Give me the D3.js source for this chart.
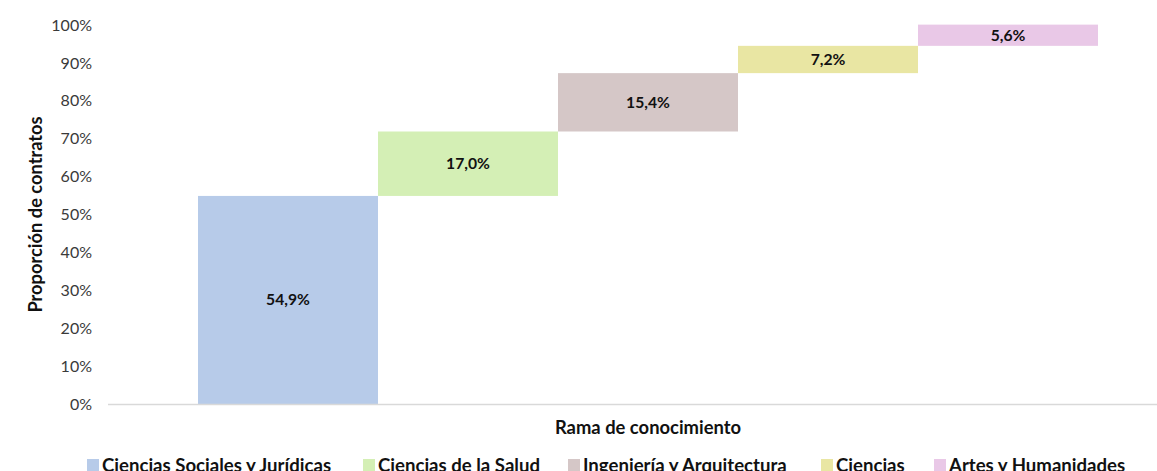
<!DOCTYPE html>
<html>
<head>
<meta charset="utf-8">
<script src="https://cdn.jsdelivr.net/npm/d3@7"></script>
<style>
  html, body { margin: 0; padding: 0; background: #fff; overflow: hidden; }
  svg { display: block; font-family: Lato, "Open Sans", sans-serif; }
</style>
</head>
<body>
<svg id="chart" width="1157" height="471"></svg>
<script>
// Share of contracts by branch of knowledge (percent)
const branches = [
  "Ciencias Sociales y Jurídicas",
  "Ciencias de la Salud",
  "Ingeniería y Arquitectura",
  "Ciencias",
  "Artes y Humanidades"
];
const shares = [54.9, 17.0, 15.4, 7.2, 5.6];
const colors = ["#b7cbe9", "#d4efb5", "#d5c7c7", "#e9e6a3", "#e9c8e7"];
const yTicks = [0, 10, 20, 30, 40, 50, 60, 70, 80, 90, 100];

const svg = d3.select("#chart");

// cumulative start/end for each floating bar
let acc = 0;
const rows = branches.map((name, i) => {
  const start = acc;
  acc += shares[i];
  return { name, value: shares[i], start, end: acc, color: colors[i] };
});

const plotLeft = 108, plotRight = 1188;
const x = d3.scaleBand()
  .domain(branches)
  .range([plotLeft, plotRight])
  .paddingOuter(0.5)
  .paddingInner(0);

const y = d3.scaleLinear().domain([0, 100]).range([404, 25]);

// y axis labels (no axis line, no ticks)
const yAxis = svg.append("g")
  .attr("transform", `translate(${plotLeft},0)`)
  .call(d3.axisLeft(y).tickValues(yTicks).tickFormat(d => d + "%").tickSize(0).tickPadding(16));
yAxis.select(".domain").remove();
yAxis.selectAll("text")
  .attr("font-family", "Lato, sans-serif")
  .attr("font-size", 16)
  .attr("fill", "#3a3a3a");

// bars
svg.append("g").selectAll("rect")
  .data(rows)
  .join("rect")
  .attr("x", d => x(d.name))
  .attr("width", x.bandwidth())
  .attr("y", d => y(d.end))
  .attr("height", d => y(d.start) - y(d.end))
  .attr("fill", d => d.color);

// baseline
svg.append("line")
  .attr("x1", plotLeft).attr("x2", plotRight)
  .attr("y1", y(0) + 0.5).attr("y2", y(0) + 0.5)
  .attr("stroke", "#d9d9d9").attr("stroke-width", 1.3);

// value labels
const fmt = v => v.toFixed(1).replace(".", ",") + "%";
svg.append("g").selectAll("text")
  .data(rows)
  .join("text")
  .attr("x", d => x(d.name) + x.bandwidth() / 2)
  .attr("y", d => (y(d.start) + y(d.end)) / 2)
  .attr("dy", "0.35em")
  .attr("text-anchor", "middle")
  .attr("font-size", 15.7)
  .attr("font-weight", 700)
  .attr("fill", "#111")
  .text(d => fmt(d.value));

// axis titles
svg.append("text")
  .attr("transform", `translate(42,${(y(0) + y(100)) / 2}) rotate(-90)`)
  .attr("text-anchor", "middle")
  .attr("font-size", 18.3)
  .attr("font-weight", 700)
  .attr("fill", "#111")
  .text("Proporción de contratos");

svg.append("text")
  .attr("x", 648)
  .attr("y", 434)
  .attr("text-anchor", "middle")
  .attr("font-size", 18.4)
  .attr("font-weight", 700)
  .attr("fill", "#111")
  .text("Rama de conocimiento");

// legend
const legendX = [87, 363, 568, 821, 934];
const legend = svg.append("g").selectAll("g")
  .data(rows)
  .join("g")
  .attr("transform", (d, i) => `translate(${legendX[i]},459)`);
legend.append("rect")
  .attr("width", 12).attr("height", 12)
  .attr("fill", d => d.color);
legend.append("text")
  .attr("x", 15)
  .attr("y", 13)
  .attr("font-size", 18.6)
  .attr("font-weight", 700)
  .attr("fill", "#111")
  .text(d => d.name);
</script>
</body>
</html>
